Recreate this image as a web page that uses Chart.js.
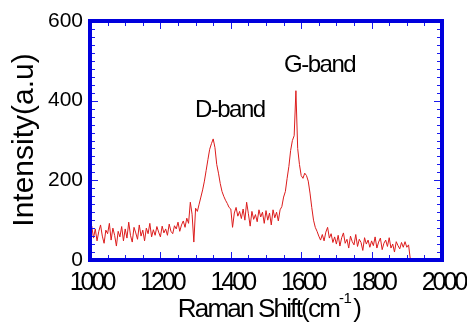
<!DOCTYPE html>
<html>
<head>
<meta charset="utf-8">
<script src="https://cdn.jsdelivr.net/npm/chart.js@4.4.1/dist/chart.umd.min.js"></script>
<style>
  html, body { margin: 0; padding: 0; background: #fff; }
</style>
</head>
<body>
<canvas id="ramanChart" width="467" height="326"></canvas>
<script>
// Raman spectrum, sampled every 5 cm-1 from 1000 cm-1
const shiftStart = 1000;
const shiftStep = 5;
const intensity = [
  70, 85, 55, 78, 48, 72, 88, 60, 42, 75, 66, 92, 50, 80, 62, 35, 72, 58, 84, 48,       // 1000-1095
  78, 55, 95, 62, 45, 82, 68, 52, 88, 60, 75, 48, 80, 66, 92, 58, 76, 62, 84, 70,       // 1100-1195
  58, 85, 68, 78, 62, 90, 72, 66, 86, 78, 95, 72, 88, 98, 82, 105, 92, 145, 115, 45,    // 1200-1295
  130, 122, 140, 158, 176, 198, 225, 252, 278, 292, 304, 282, 240, 218, 192, 172, 160, 150, 142, 132, // 1300-1395
  128, 82, 118, 132, 110, 122, 104, 128, 100, 145, 116, 85, 122, 102, 114, 96, 126, 108, 120, 92,     // 1400-1495
  124, 100, 118, 88, 126, 106, 120, 98, 126, 134, 158, 172, 205, 235, 275, 300, 312, 425, 280, 240,   // 1500-1595
  212, 205, 218, 212, 198, 168, 132, 100, 82, 72, 60, 50, 64, 48, 70, 82, 55, 66, 44, 58,             // 1600-1695
  40, 62, 35, 56, 68, 42, 52, 30, 60, 46, 38, 64, 34, 52, 44, 24, 56, 40, 50, 32,       // 1700-1795
  48, 36, 58, 30, 45, 55, 26, 42, 50, 34, 56, 30, 40, 20, 46, 36, 28, 44, 32, 46,       // 1800-1895
  32, 38, 2                                                                              // 1900-1910
];
const ramanShift = intensity.map((_, i) => shiftStart + i * shiftStep);

const xTicks = [1000, 1200, 1400, 1600, 1800, 2000];
const yTicks = [0, 200, 400, 600];
const bandNames = ['D-band', 'G-band'];
const bandAnchorX = [1395, 1650];
const bandAnchorY = [359, 472];

const xMinorStep = 50;
const yMinorStep = 20;
const fontFamily = '"Liberation Sans", Arial, Helvetica, sans-serif';

const framePlugin = {
    id: 'frame',
    afterDraw(chart) {
        const { ctx, chartArea: a } = chart;
        const xs = chart.scales.x, ys = chart.scales.y;
        ctx.save();

        // inward tick marks on all four sides
        ctx.strokeStyle = '#1a1aee';
        ctx.lineWidth = 1;
        ctx.beginPath();
        for (let v = xs.min; v <= xs.max; v += xMinorStep) {
            const p = Math.round(xs.getPixelForValue(v)) + 0.5;
            const len = xTicks.includes(v) ? 8 : 5;
            ctx.moveTo(p, a.bottom); ctx.lineTo(p, a.bottom - len);
            ctx.moveTo(p, a.top); ctx.lineTo(p, a.top + len);
        }
        for (let v = ys.min; v <= ys.max; v += yMinorStep) {
            const p = Math.round(ys.getPixelForValue(v)) + 0.5;
            const len = yTicks.includes(v) ? 8 : 5;
            ctx.moveTo(a.left, p); ctx.lineTo(a.left + len, p);
            ctx.moveTo(a.right, p); ctx.lineTo(a.right - len, p);
        }
        ctx.stroke();

        // blue box
        ctx.strokeStyle = '#0000dd';
        ctx.lineWidth = 4;
        ctx.strokeRect(a.left, a.top, a.right - a.left, a.bottom - a.top);

        // x tick labels (narrow, like the original)
        ctx.fillStyle = '#000';
        ctx.font = '25px ' + fontFamily;
        ctx.letterSpacing = '-3px';
        ctx.textAlign = 'center';
        ctx.textBaseline = 'alphabetic';
        xs.ticks.forEach(t => {
            ctx.fillText(String(t.value), xs.getPixelForValue(t.value) + 1.5, a.bottom + 30);
        });

        // band labels
        ctx.font = '24px ' + fontFamily;
        ctx.letterSpacing = '-1.5px';
        bandNames.forEach((name, i) => {
            ctx.fillText(name, xs.getPixelForValue(bandAnchorX[i]) + 0.75, ys.getPixelForValue(bandAnchorY[i]));
        });

        // x axis title with superscript
        const mainText = 'Raman Shift(cm', supText = '-1', closeText = ')';
        ctx.textAlign = 'left';
        ctx.font = '26px ' + fontFamily;
        ctx.letterSpacing = '-1.8px';
        const w1 = ctx.measureText(mainText).width;
        const w3 = ctx.measureText(closeText).width;
        ctx.font = '15px ' + fontFamily;
        ctx.letterSpacing = '-0.5px';
        const w2 = ctx.measureText(supText).width;
        let tx = (a.left + a.right) / 2 + 2 - (w1 + w2 + w3) / 2;
        const baseY = a.bottom + 57;
        ctx.font = '26px ' + fontFamily;
        ctx.letterSpacing = '-1.8px';
        ctx.fillText(mainText, tx, baseY);
        tx += w1;
        ctx.font = '15px ' + fontFamily;
        ctx.letterSpacing = '-0.5px';
        ctx.fillText(supText, tx, baseY - 14);
        tx += w2 + 2;
        ctx.font = '26px ' + fontFamily;
        ctx.letterSpacing = '-1.8px';
        ctx.fillText(closeText, tx, baseY);

        // y axis title
        ctx.letterSpacing = '0px';
        ctx.font = '30px ' + fontFamily;
        ctx.textAlign = 'center';
        ctx.translate(33, 140);
        ctx.rotate(-Math.PI / 2);
        ctx.fillText('Intensity(a.u)', 0, 0);

        ctx.restore();
    }
};

new Chart(document.getElementById('ramanChart'), {
    type: 'line',
    data: {
        datasets: [{
            data: ramanShift.map((x, i) => ({ x: x, y: intensity[i] })),
            borderColor: '#dc1c1c',
            borderWidth: 1,
            pointRadius: 0,
            tension: 0,
            fill: false
        }]
    },
    options: {
        responsive: false,
        animation: false,
        devicePixelRatio: 1,
        layout: { padding: { top: 21, right: 25, left: 0, bottom: 0 } },
        plugins: { legend: { display: false }, tooltip: { enabled: false } },
        scales: {
            x: {
                type: 'linear',
                min: 1000,
                max: 2000,
                grid: { display: false, drawTicks: false },
                border: { display: false },
                ticks: { display: false, stepSize: 200 },
                afterFit(scale) { scale.height = 66; }
            },
            y: {
                min: 0,
                max: 600,
                grid: { display: false, drawTicks: false },
                border: { display: false },
                ticks: {
                    stepSize: 200,
                    padding: 7,
                    color: '#000',
                    font: { family: fontFamily, size: 21 },
                    callback: v => String(v)
                },
                afterFit(scale) { scale.width = 90; }
            }
        }
    },
    plugins: [framePlugin]
});
</script>
</body>
</html>
